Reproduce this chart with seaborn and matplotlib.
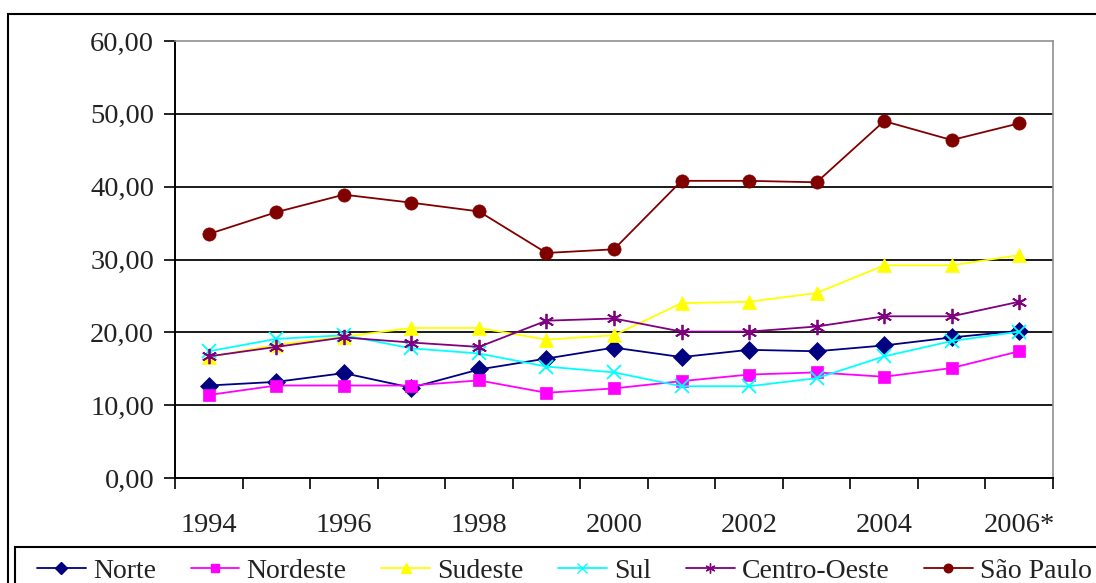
import matplotlib
matplotlib.use("Agg")
import matplotlib.pyplot as plt
import seaborn as sns
import pandas as pd
from matplotlib.patches import Rectangle
from matplotlib.lines import Line2D

years = [1994, 1995, 1996, 1997, 1998, 1999, 2000, 2001, 2002, 2003, 2004, 2005, 2006]
tick_years = [1994, 1996, 1998, 2000, 2002, 2004, 2006]
tick_labels = ["1994", "1996", "1998", "2000", "2002", "2004", "2006*"]

norte = [12.7, 13.2, 14.4, 12.4, 14.9, 16.4, 17.9, 16.6, 17.6, 17.4, 18.2, 19.3, 20.2]
nordeste = [11.4, 12.7, 12.7, 12.7, 13.4, 11.7, 12.3, 13.3, 14.2, 14.5, 13.9, 15.1, 17.4]
sudeste = [16.6, 18.3, 19.4, 20.6, 20.6, 19.0, 19.6, 24.0, 24.2, 25.4, 29.2, 29.2, 30.6]
sul = [17.4, 19.1, 19.6, 17.8, 17.1, 15.3, 14.5, 12.6, 12.6, 13.7, 16.7, 18.8, 20.1]
centro_oeste = [16.7, 18.0, 19.3, 18.6, 18.0, 21.6, 21.9, 20.1, 20.1, 20.8, 22.2, 22.2, 24.2]
sao_paulo = [33.5, 36.5, 38.9, 37.8, 36.6, 30.9, 31.4, 40.8, 40.8, 40.6, 49.0, 46.4, 48.7]

series_names = ["Norte", "Nordeste", "Sudeste", "Sul", "Centro-Oeste", "São Paulo"]
series_vals = [norte, nordeste, sudeste, sul, centro_oeste, sao_paulo]
colors = ["#000080", "#FF00FF", "#FFFF00", "#00FFFF", "#800080", "#800000"]
markers = ["D", "s", "^", "x", (6, 2, 0), "o"]
msizes = [9, 9, 10, 10, 11, 9.5]

sns.set_style("white")
plt.rcParams["font.family"] = ["Liberation Serif", "DejaVu Serif"]

fig = plt.figure(figsize=(10.96, 5.83), dpi=100)
ax = fig.add_axes([175 / 1096, 1 - 478 / 583, (1053 - 175) / 1096, (478 - 41) / 583])

for name, vals, c, m, ms in zip(series_names, series_vals, colors, markers, msizes):
    df = pd.DataFrame({"year": years, "val": vals})
    sns.lineplot(data=df, x="year", y="val", ax=ax, color=c, marker=m,
                 markersize=ms, markeredgecolor=c, markerfacecolor=c,
                 markeredgewidth=1.3 if m in ("x", (6, 2, 0)) else 0.5,
                 linewidth=1.3, legend=False, label=name)

ax.set_xlim(1993.5, 2006.5)
ax.set_ylim(0, 60)
ax.set_yticks([0, 10, 20, 30, 40, 50, 60])
ax.set_yticklabels([f"{v},00" for v in [0, 10, 20, 30, 40, 50, 60]])
ax.set_xticks([1993.5 + k for k in range(14)])
ax.set_xticklabels([])
ax.set_xticks(tick_years, minor=True)
ax.set_xticklabels(tick_labels, minor=True)
ax.tick_params(axis="x", which="major", length=8, width=1.2, color="black", direction="out", bottom=True)
ax.tick_params(axis="x", which="minor", length=0, pad=25.5, labelsize=20.5, labelcolor="#222222")
ax.tick_params(axis="y", length=8, width=1.2, color="black", direction="out", left=True, pad=7,
               labelsize=20.5, labelcolor="#222222")
ax.set_xlabel("")
ax.set_ylabel("")

for v in [10, 20, 30, 40, 50]:
    ax.axhline(v, color="#1a1a1a", linewidth=1.4, zorder=0.5)

for side in ["left", "bottom"]:
    ax.spines[side].set_color("black")
    ax.spines[side].set_linewidth(1.4)
for side in ["top", "right"]:
    ax.spines[side].set_color("#909090")
    ax.spines[side].set_linewidth(1.2)

# outer chart border
fig.patches.append(Rectangle((8 / 1096, -0.05), 1.2, 1 - 14 / 583 + 0.05, transform=fig.transFigure,
                             fill=False, edgecolor="black", linewidth=1.5, zorder=0))
# legend frame
fig.patches.append(Rectangle((15 / 1096, -0.05), 1.2, 1 - 547 / 583 + 0.05, transform=fig.transFigure,
                             fill=False, edgecolor="black", linewidth=1.5, zorder=0))

handles = [Line2D([], [], color=c, marker=m, markersize=ms * 0.65, markeredgecolor=c,
                  markerfacecolor=c, linewidth=1.3, markeredgewidth=1.0)
           for c, m, ms in zip(colors, markers, msizes)]
fig.legend(handles, series_names, ncol=6, loc="center left",
           bbox_to_anchor=(37 / 1096, 1 - 571 / 583), frameon=False, fontsize=20,
           borderpad=0, borderaxespad=0,
           handlelength=1.76, handletextpad=0.25, columnspacing=1.25, labelcolor="#222222")

fig.savefig("out.png", dpi=100)
